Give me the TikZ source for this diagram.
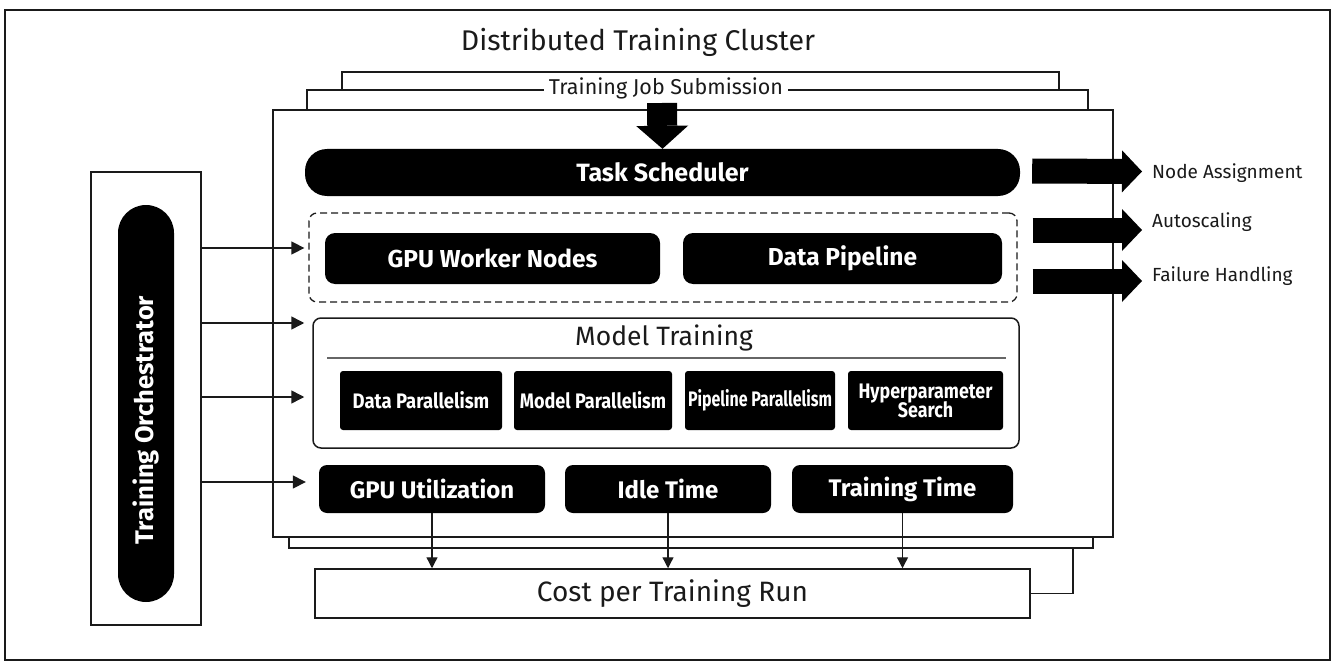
\documentclass[tikz,border=0pt]{standalone}
\usepackage{fontspec}
\setmainfont{Fira Sans}
\usepackage{graphicx}
\usetikzlibrary{arrows.meta,calc}
\definecolor{ink}{HTML}{1A1A1A}
\begin{document}
\begin{tikzpicture}[x=1pt,y=-1pt,
  card/.style={line width=1.5pt, draw=ink},
  blackbox/.style={fill=black, text=white, inner sep=0pt, align=center,
     font=\bfseries\fontsize{24}{28}\selectfont},
  smallbox/.style={fill=black, text=white, inner sep=0pt, align=center, rounded corners=3pt,
     minimum height=59pt, font=\bfseries\fontsize{21}{23}\selectfont},
  lbl/.style={text=ink, inner sep=0pt, anchor=west, font=\fontsize{19}{23}\selectfont},
  oarr/.style={line width=1.5pt, draw=ink, -{Triangle[length=13pt,width=13pt]}},
  darr/.style={line width=1.3pt, draw=ink, -{Triangle[length=11pt,width=11pt]}},
  bigarr/.style={line width=25pt, draw=black, -{Triangle[length=20pt,width=42pt,line width=0pt]}},
  bigdown/.style={line width=30pt, draw=black, -{Triangle[length=23pt,width=52pt,line width=0pt]}}
]
\useasboundingbox (0,0) rectangle (1337,663);
% outer frame
\draw[line width=1.3pt, draw=ink] (5,10) rectangle (1330,660);

% title
\node[text=ink, font=\fontsize{28.5}{33}\selectfont] (title) at (638,42) {Distributed Training Cluster};

% stacked cards
\draw[card] (342,90) -- (342,72) -- (1059,72) -- (1059,90);
\draw[card] (307,110) -- (307,90) -- (1088,90) -- (1088,110);
\draw[card] (289,537) -- (289,548) -- (1093,548) -- (1093,537);
\node[card, fill=white, minimum width=840pt, minimum height=427pt, inner sep=0pt] (main) at (693,323.5) {};
\node[fill=white, text=ink, inner xsep=5pt, inner ysep=1pt, font=\fontsize{21.5}{25}\selectfont] (tjs) at (666,88) {Training Job Submission};

% task scheduler
\coordinate (jobin) at (662,103);
\node[blackbox, rounded corners=22pt, minimum width=715pt, minimum height=47pt,
      font=\bfseries\fontsize{25}{29}\selectfont] (ts) at (662.5,172.5) {Task Scheduler};
\draw[bigdown] (jobin) -- (ts.north);

% dashed group
\node[draw=ink, dashed, dash pattern=on 7pt off 4pt, line width=1.3pt, rounded corners=8pt,
      minimum width=708pt, minimum height=89pt, inner sep=0pt] (dash) at (663,257.5) {};
\node[blackbox, rounded corners=10pt, minimum width=335pt, minimum height=51pt,
      font=\bfseries\fontsize{24.5}{28}\selectfont] (gpuw) at (492.5,258.5) {GPU Worker Nodes};
\node[blackbox, rounded corners=10pt, minimum width=319pt, minimum height=51pt,
      font=\bfseries\fontsize{24.5}{28}\selectfont] (dpipe) at (842.5,258.5) {Data Pipeline};

% model training
\node[draw=ink, line width=1.5pt, rounded corners=8pt, minimum width=706pt, minimum height=130pt, inner sep=0pt] (mt) at (666,383) {};
\node[text=ink, font=\fontsize{26.5}{30}\selectfont] (mttitle) at (664,338) {Model Training};
\draw[line width=1.2pt, draw=black!60] ($(mt.west)+(15,-25)$) -- ($(mt.east)+(-14,-25)$);
\node[smallbox, minimum width=162pt] (p1) at (421,400.5) {\scalebox{0.88}[1]{Data Parallelism}};
\node[smallbox, minimum width=158pt] (p2) at (593,400.5) {\scalebox{0.86}[1]{Model Parallelism}};
\node[smallbox, minimum width=150pt] (p3) at (760,400.5) {\scalebox{0.76}[1]{Pipeline Parallelism}};
\node[smallbox, minimum width=155pt] (p4) at (925.5,400.5) {\scalebox{0.85}[1]{Hyperparameter}\\[-4pt]\scalebox{0.85}[1]{Search}};

% metrics
\node[blackbox, rounded corners=8pt, minimum width=226pt, minimum height=48pt] (gpuu) at (432,489) {GPU Utilization};
\node[blackbox, rounded corners=8pt, minimum width=206pt, minimum height=48pt] (idle) at (668,489) {Idle Time};
\node[blackbox, rounded corners=8pt, minimum width=221pt, minimum height=48pt] (tt) at (902.5,489) {Training Time};

% cost
\node[card, fill=white, minimum width=715pt, minimum height=49pt, inner sep=0pt, text=ink,
      font=\fontsize{28}{32}\selectfont] (cost) at (672.5,593.5) {Cost per Training Run};
\draw[card] (cost.east) -- (1073,593.5) -- (1073,548);
\draw[darr] (gpuu.south) -- (gpuu.south |- cost.north);
\draw[darr] (idle.south) -- (idle.south |- cost.north);
\draw[darr] (tt.south) -- (tt.south |- cost.north);

% orchestrator
\node[draw=ink, line width=1.5pt, minimum width=110pt, minimum height=453pt, inner sep=0pt] (orchbox) at (146,398.5) {};
\node[fill=black, rounded corners=28pt, minimum width=56pt, minimum height=397pt, inner sep=0pt] (orch) at (146,403.5) {};
\node[text=white, inner sep=0pt, rotate=90, font=\bfseries\fontsize{25.5}{29}\selectfont] (orchtxt) at (146,420) {Training Orchestrator};
\draw[oarr] (orchbox.east |- 0,248) -- ($(dash.west |- 0,248)+(-4,0)$);
\draw[oarr] (orchbox.east |- 0,323) -- ($(mt.west |- 0,323)+(-8,0)$);
\draw[oarr] (orchbox.east |- 0,397) -- ($(mt.west |- 0,397)+(-8,0)$);
\draw[oarr] (orchbox.east |- 0,482) -- ($(gpuu.west |- 0,482)+(-13,0)$);

% right outputs
\node[lbl] (na) at (1152,173) {Node Assignment};
\node[lbl] (auto) at (1152,222) {Autoscaling};
\node[lbl] (fh) at (1152,276) {Failure Handling};
\draw[bigarr] ($(ts.east)+(12,-1.5)$) -- ($(na.west)+(-10,-1.5)$);
\draw[bigarr] ($(dash.east |- 0,230)+(15,0)$) -- ($(auto.west |- 0,230)+(-10,0)$);
\draw[bigarr] ($(dash.east |- 0,281)+(15,0)$) -- ($(fh.west |- 0,281)+(-10,0)$);
\end{tikzpicture}
\end{document}
